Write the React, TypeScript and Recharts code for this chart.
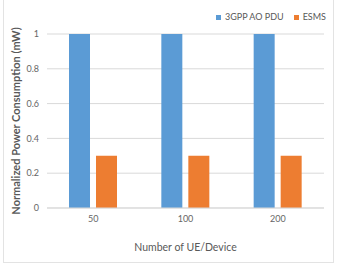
import React from 'react';
import { BarChart, Bar, XAxis, YAxis, CartesianGrid, Legend } from 'recharts';

const categories = ['50', '100', '200'];
const aoPduValues = [1, 1, 1];
const esmsValues = [0.3, 0.3, 0.3];
const yTicks = [0, 0.2, 0.4, 0.6, 0.8, 1];

const data = categories.map((c, i) => ({ name: c, ao: aoPduValues[i], esms: esmsValues[i] }));

const FONT = 'Lato, "Open Sans", sans-serif';
const GREY = '#595959';

export default function App() {
    return (
        <div style={{ position: 'absolute', left: 0, top: 0, width: 337, height: 265, background: '#fff', fontFamily: FONT }}>
            <div
                style={{
                    position: 'absolute',
                    left: 3,
                    top: 0,
                    width: 329,
                    height: 262,
                    borderLeft: '1px solid #e3e3e3',
                    borderRight: '1px solid #e3e3e3',
                    borderBottom: '1px solid #e3e3e3',
                }}
            />
            <BarChart
                width={337}
                height={265}
                data={data}
                margin={{ top: 34, right: 13, left: 17, bottom: 17 }}
                barCategoryGap={22}
                barGap={6}
            >
                <CartesianGrid stroke="#d9d9d9" vertical={false} />
                <XAxis
                    dataKey="name"
                    height={40}
                    stroke="#d9d9d9"
                    tickLine={false}
                    tick={{ fill: '#666', fontSize: 9, fontFamily: FONT }}
                    label={{ value: 'Number of UE/Device', position: 'insideBottom', offset: -3, fill: GREY, fontSize: 10.5, fontFamily: FONT }}
                />
                <YAxis
                    width={30}
                    domain={[0, 1]}
                    ticks={yTicks}
                    axisLine={false}
                    tickLine={false}
                    tick={{ fill: '#666', fontSize: 9, fontFamily: FONT }}
                    label={{
                        value: 'Normalized Power Consumption (mW)',
                        angle: -90,
                        position: 'center',
                        dx: -16,
                        fill: GREY,
                        fontSize: 11,
                        fontWeight: 'bold',
                        fontFamily: FONT,
                    }}
                />
                <Legend
                    layout="horizontal"
                    verticalAlign="middle"
                    align="center"
                    iconType="square"
                    iconSize={5}
                    wrapperStyle={{ top: 11, left: 216, width: 'auto', fontSize: 9, lineHeight: '12px' }}
                    formatter={(v) => <span style={{ color: GREY, fontSize: 9 }}>{v}</span>}
                />
                <Bar dataKey="ao" name="3GPP AO PDU" fill="#5b9bd5" isAnimationActive={false} />
                <Bar dataKey="esms" name="ESMS" fill="#ed7d31" isAnimationActive={false} />
            </BarChart>
        </div>
    );
}
